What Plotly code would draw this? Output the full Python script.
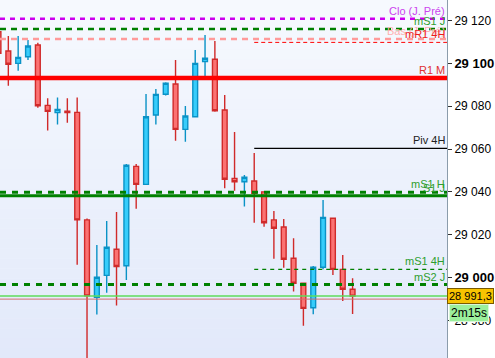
import plotly.graph_objects as go

# ---------------- data ----------------
idx = list(range(37))
opens = [29114.8, 29105.8, 29100.0, 29103.1, 29108.6, 29080.4, 29077.0, 29077.7, 29077.1, 29026.9,
         28990.8, 29001.0, 29013.2, 29005.5, 29051.9, 29043.5, 29075.9, 29085.6, 29090.4, 29069.2,
         29075.1, 29100.8, 29101.9, 29078.2, 29046.3, 29044.7, 29045.1, 29040.0, 29026.9, 29023.6,
         29009.0, 28997.3, 28985.9, 29004.8, 29027.7, 29003.8, 28994.5]
highs = [29115.5, 29112.8, 29112.8, 29110.9, 29109.6, 29083.7, 29084.1, 29083.7, 29084.1, 29027.5,
         29015.2, 29026.4, 29030.6, 29053.0, 29053.0, 29085.7, 29088.0, 29091.2, 29101.6, 29080.1,
         29106.2, 29113.2, 29110.4, 29085.2, 29068.0, 29047.9, 29058.1, 29040.3, 29031.1, 29027.3,
         29018.3, 28997.5, 29005.4, 29036.2, 29028.0, 29010.5, 28999.6]
lows = [29103.5, 29089.6, 29096.6, 29101.6, 29079.3, 29068.6, 29071.4, 29072.3, 29006.0, 28955.0,
        28982.7, 28992.9, 28986.9, 28998.8, 29032.1, 29043.3, 29071.4, 29085.0, 29063.9, 29063.4,
        29075.0, 29093.8, 29077.4, 29041.7, 29040.5, 29033.1, 29025.6, 29023.7, 29008.7, 29004.5,
        28993.4, 28977.5, 28982.8, 29003.8, 29001.2, 28989.0, 28983.0]
closes = [29104.7, 29099.6, 29102.8, 29108.1, 29080.2, 29077.6, 29078.5, 29077.0, 29026.9, 28991.4,
          29000.1, 29014.1, 29005.1, 29052.4, 29043.5, 29075.1, 29085.5, 29090.7, 29069.2, 29075.4,
          29100.0, 29102.4, 29077.9, 29045.9, 29044.7, 29046.8, 29039.3, 29025.6, 29023.0, 29008.5,
          28997.3, 28985.6, 29004.8, 29028.1, 29003.8, 28994.5, 28991.3]

# level lines
level_names = ["Clo (J. Pré)", "mS1 J", "Bas (J. Pré)", "mR1 4H", "R1 M", "Piv 4H",
               "mS1 H", "S1 J", "mS1 4H", "mS2 J"]
level_values = [29120.8, 29116.0, 29111.4, 29109.8, 29093.2, 29060.3,
                29039.8, 29038.2, 29003.8, 28996.7]
level_start = [None, None, None, 26, None, 26, None, None, 26, None]
level_colors = ["#cc00ee", "#008000", "#ff9a9a", "#ff0000", "#ff0000", "#000000",
                "#008000", "#008000", "#008000", "#008000"]
level_widths = [2.5, 2.5, 2.5, 1, 4.5, 1.3, 3, 3, 1.2, 3]
level_dash = ["5px,5px", "6px,5px", "6px,5px", "4px,3px", "solid", "solid",
              "6px,6px", "solid", "4px,4px", "6px,6px"]
label_colors = ["#cc44ee", "#2e9e2e", "#ffb0b0", "#ee1c1c", "#e03030", "#222222",
                "#2e9e2e", "#2e9e2e", "#2e9e2e", "#2e9e2e"]

last_price = 28991.3
last_price_text = "28 991,3"
bid_price = 28989.9
timer_text = "2m15s"

tick_vals = [28980, 29000, 29020, 29040, 29060, 29080, 29100, 29120]
tick_text = ["28 980", "<b><span style='font-size:13px'>29 000</span></b>", "29 020", "29 040",
             "29 060", "29 080", "<b><span style='font-size:13px'>29 100</span></b>", "29 120"]

y_min, y_max = 28962.4, 29129.6
x_min, x_max = 0.153, 45.6

# ---------------- figure ----------------
fig = go.Figure()

# background gradient bands
n_bands = 36
top_rgb = (246, 249, 254)
bot_rgb = (226, 233, 250)
for b in range(n_bands):
    t = b / (n_bands - 1)
    c = tuple(round(top_rgb[k] + (bot_rgb[k] - top_rgb[k]) * t) for k in range(3))
    fig.add_shape(type="rect", xref="paper", yref="paper",
                  x0=0, x1=1, y0=1 - (b + 1) / n_bands, y1=1 - b / n_bands,
                  fillcolor="rgb(%d,%d,%d)" % c, line_width=0, layer="below")

for name, v, s, col, w, d in zip(level_names, level_values, level_start, level_colors,
                                 level_widths, level_dash):
    x0 = x_min if s is None else s
    fig.add_trace(go.Scatter(x=[x0, x_max], y=[v, v], mode="lines",
                             line=dict(color=col, width=w, dash=d),
                             hoverinfo="skip", showlegend=False))

fig.add_trace(go.Scatter(x=[x_min, x_max], y=[bid_price, bid_price], mode="lines",
                         line=dict(color="#d07070", width=1), hoverinfo="skip", showlegend=False))
fig.add_trace(go.Scatter(x=[x_min, x_max], y=[last_price, last_price], mode="lines",
                         line=dict(color="#5cdc5c", width=1.5), hoverinfo="skip", showlegend=False))

fig.add_trace(go.Candlestick(
    x=idx, open=opens, high=highs, low=lows, close=closes,
    increasing=dict(fillcolor="#36cdfb", line=dict(color="#0a92c6", width=1.4)),
    decreasing=dict(fillcolor="#fb7272", line=dict(color="#d02a2a", width=1.4)),
    whiskerwidth=0, showlegend=False, hoverinfo="skip"))

for name, v, col in zip(level_names, level_values, label_colors):
    fig.add_annotation(x=1, xref="paper", xanchor="right", xshift=-1,
                       y=v, yref="y", yanchor="bottom", yshift=1,
                       text=name, showarrow=False, borderpad=0,
                       font=dict(family="Liberation Sans, Arial", size=11, color=col))

fig.add_annotation(x=1, xref="paper", xanchor="left", xshift=0, y=last_price, yref="y",
                   yanchor="middle", text=last_price_text, showarrow=False,
                   bgcolor="#f7c300", bordercolor="#7a5a00", borderwidth=1, borderpad=1,
                   font=dict(family="Liberation Sans, Arial", size=11, color="#000000"))
fig.add_annotation(x=1, xref="paper", xanchor="left", xshift=2, y=last_price, yref="y",
                   yanchor="top", yshift=-8, text=timer_text, showarrow=False,
                   bgcolor="#9bef9b", bordercolor="#d8f8d8", borderwidth=1, borderpad=1,
                   font=dict(family="Liberation Sans, Arial", size=12, color="#000000"))

fig.update_layout(
    width=495, height=358,
    margin=dict(l=0, r=48, t=0, b=0),
    paper_bgcolor="#ffffff", plot_bgcolor="#eef2fc",
    showlegend=False,
    xaxis=dict(range=[x_min, x_max], visible=False, rangeslider=dict(visible=False),
               showgrid=False, zeroline=False),
    yaxis=dict(range=[y_min, y_max], side="right", showgrid=False, zeroline=False,
               tickvals=tick_vals, ticktext=tick_text, ticks="outside", ticklen=4,
               tickcolor="#333333", showline=True, linecolor="#8b9cab", linewidth=1,
               tickfont=dict(family="Liberation Sans, Arial", size=12, color="#000000")),
)

fig.write_html("out.html", config={"displayModeBar": False},
               post_script="document.body.style.margin='0';document.body.style.overflow='hidden';")
